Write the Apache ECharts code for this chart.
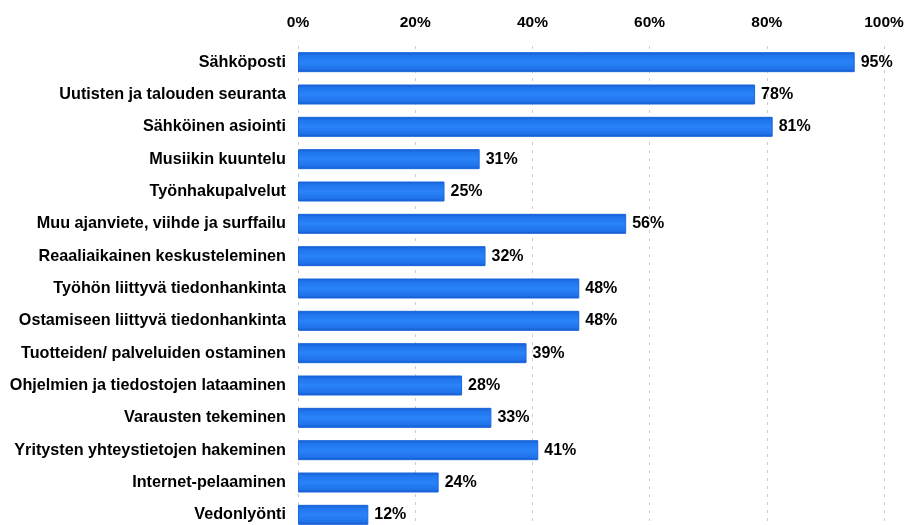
<!DOCTYPE html>
<html>
<head>
<meta charset="utf-8">
<script src="https://cdn.jsdelivr.net/npm/echarts@6/dist/echarts.min.js"></script>
<style>
  html, body { margin: 0; padding: 0; background: #fff; overflow: hidden; }
  /* the last row runs slightly past the bottom edge, so the canvas is taller than the window */
  #chart { width: 907px; height: 540px; }
</style>
</head>
<body>
<div id="chart"></div>
<script>
// Internet use by purpose, share of users (%)
const categories = [
  'Sähköposti',
  'Uutisten ja talouden seuranta',
  'Sähköinen asiointi',
  'Musiikin kuuntelu',
  'Työnhakupalvelut',
  'Muu ajanviete, viihde ja surffailu',
  'Reaaliaikainen keskusteleminen',
  'Työhön liittyvä tiedonhankinta',
  'Ostamiseen liittyvä tiedonhankinta',
  'Tuotteiden/ palveluiden ostaminen',
  'Ohjelmien ja tiedostojen lataaminen',
  'Varausten tekeminen',
  'Yritysten yhteystietojen hakeminen',
  'Internet-pelaaminen',
  'Vedonlyönti'
];
const values = [95, 78, 81, 31, 25, 56, 32, 48, 48, 39, 28, 33, 41, 24, 12];
const tickValues = [0, 20, 40, 60, 80, 100];

const font = 'Liberation Sans, Arial, sans-serif';
const chart = echarts.init(document.getElementById('chart'), null, { renderer: 'canvas' });

const barGradient = new echarts.graphic.LinearGradient(0, 0, 0, 1, [
  { offset: 0, color: '#1559cc' },
  { offset: 0.15, color: '#1f74ec' },
  { offset: 0.5, color: '#2a83f8' },
  { offset: 0.85, color: '#1f72ea' },
  { offset: 1, color: '#1556c6' }
]);

chart.setOption({
  animation: false,
  backgroundColor: '#ffffff',
  grid: { left: 298, right: 23, top: 46, height: 485, containLabel: false },
  xAxis: {
    type: 'value',
    position: 'top',
    min: tickValues[0],
    max: tickValues[tickValues.length - 1],
    interval: 20,
    axisLine: { show: false },
    axisTick: { show: false },
    axisLabel: {
      formatter: v => v + '%',
      color: '#000',
      fontFamily: font,
      fontWeight: 'bold',
      fontSize: 15.5,
      margin: 15
    },
    splitLine: {
      show: true,
      lineStyle: { color: '#cccccc', type: [3, 5], width: 1 }
    }
  },
  yAxis: {
    type: 'category',
    data: categories,
    inverse: true,
    axisLine: { show: false },
    axisTick: { show: false },
    axisLabel: {
      color: '#000',
      fontFamily: font,
      fontWeight: 'bold',
      fontSize: 16.2,
      margin: 12
    }
  },
  series: [{
    type: 'bar',
    data: values,
    barWidth: 20,
    itemStyle: { color: barGradient, borderColor: '#1a66dc', borderWidth: 1 },
    label: {
      show: true,
      position: 'right',
      distance: 6,
      formatter: p => p.value + '%',
      color: '#000',
      fontFamily: font,
      fontWeight: 'bold',
      fontSize: 16
    }
  }]
});
</script>
</body>
</html>
